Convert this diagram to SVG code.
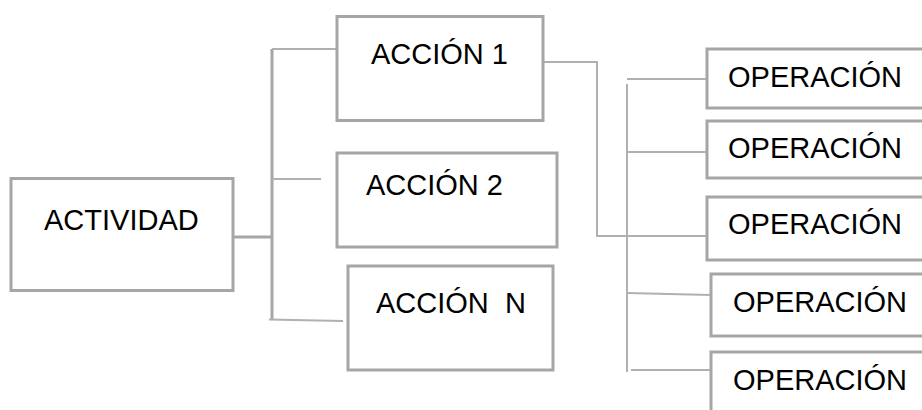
<svg xmlns="http://www.w3.org/2000/svg" width="922" height="410" viewBox="0 0 922 410">
<style>
.box{fill:#ffffff;stroke:#a6a6a6;stroke-width:3}
.t{font-family:"Liberation Sans",Arial,sans-serif;font-size:29px;fill:#000000;white-space:pre}
.c{fill:none;stroke:#b0b0b0;stroke-width:2}
.ct{fill:none;stroke:#a6a6a6;stroke-width:3}
</style>
<rect width="922" height="410" fill="#ffffff"/>
<g id="connectors">
<path class="ct" d="M233,237 H272"/>
<path class="ct" d="M272,49 V319"/>
<path class="c" d="M272,49 H337"/>
<path class="c" d="M272,179 H321"/>
<path class="c" d="M269,319.5 L343,321"/>
<path class="c" d="M543,62 H597 V236 H707"/>
<path class="c" d="M627,84 V372"/>
<path class="c" d="M627,79 H707"/>
<path class="c" d="M627,152 H707"/>
<path class="c" d="M627,293 L711,295"/>
<path class="c" d="M631,370 H711"/>
</g>
<g id="actividad">
<rect class="box" x="11" y="178.5" width="222" height="112"/>
<text class="t" x="44" y="230">ACTIVIDAD</text>
</g>
<g id="accion1">
<rect class="box" x="337" y="16.5" width="206" height="104"/>
<text class="t" x="371" y="64">ACCIÓN 1</text>
</g>
<g id="accion2">
<rect class="box" x="337" y="153" width="220" height="94"/>
<text class="t" x="366" y="195">ACCIÓN 2</text>
</g>
<g id="accionN">
<rect class="box" x="348" y="266" width="205" height="104"/>
<text class="t" x="376" y="313" xml:space="preserve">ACCIÓN  N</text>
</g>
<g id="op1">
<rect class="box" x="707" y="49" width="240" height="59"/>
<text class="t" x="728" y="87">OPERACIÓN</text>
</g>
<g id="op2">
<rect class="box" x="707" y="121" width="240" height="57"/>
<text class="t" x="728" y="158">OPERACIÓN</text>
</g>
<g id="op3">
<rect class="box" x="707" y="197" width="240" height="63"/>
<text class="t" x="728" y="234">OPERACIÓN</text>
</g>
<g id="op4">
<rect class="box" x="711" y="274" width="240" height="62"/>
<text class="t" x="733" y="312">OPERACIÓN</text>
</g>
<g id="op5">
<rect class="box" x="711" y="352" width="240" height="80"/>
<text class="t" x="733" y="390">OPERACIÓN</text>
</g>
</svg>
